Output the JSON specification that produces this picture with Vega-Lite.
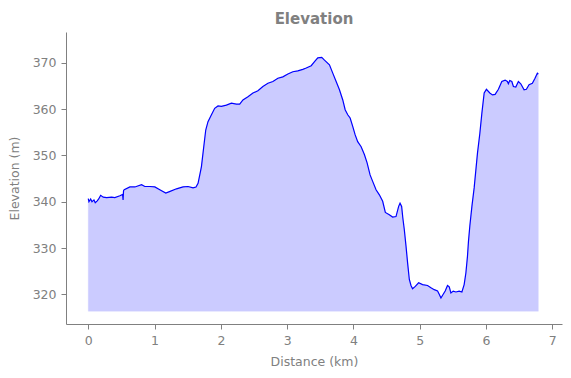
{
  "$schema": "https://vega.github.io/schema/vega-lite/v6.json",
  "autosize": "none",
  "width": 496,
  "height": 292,
  "padding": {"left": 66, "top": 32, "right": 9, "bottom": 54},
  "background": "white",
  "config": {
    "view": {"stroke": null},
    "font": "DejaVu Sans",
    "axis": {
      "domainColor": "#808080",
      "tickColor": "#808080",
      "labelColor": "#808080",
      "titleColor": "#808080",
      "labelFont": "DejaVu Sans",
      "titleFont": "DejaVu Sans",
      "labelFontSize": 12.5,
      "titleFontSize": 12.5,
      "titleFontWeight": "normal",
      "tickSize": 5,
      "grid": false,
      "domainWidth": 1,
      "tickWidth": 1
    }
  },
  "title": {
    "text": "Elevation",
    "font": "DejaVu Sans",
    "fontSize": 15,
    "fontWeight": "bold",
    "color": "#808080",
    "anchor": "middle",
    "offset": 5
  },
  "data": {
    "values": [
      {"d": 0.000, "e": 340.66}, {"d": 0.010, "e": 340.0}, {"d": 0.036, "e": 340.6}, {"d": 0.056, "e": 340.0},
      {"d": 0.086, "e": 340.4}, {"d": 0.105, "e": 339.8}, {"d": 0.135, "e": 340.2}, {"d": 0.157, "e": 340.6},
      {"d": 0.187, "e": 341.4}, {"d": 0.226, "e": 341.0}, {"d": 0.277, "e": 340.9}, {"d": 0.352, "e": 341.0},
      {"d": 0.400, "e": 340.9}, {"d": 0.477, "e": 341.3}, {"d": 0.518, "e": 341.6}, {"d": 0.525, "e": 340.4},
      {"d": 0.532, "e": 342.4}, {"d": 0.542, "e": 342.6}, {"d": 0.628, "e": 343.2}, {"d": 0.703, "e": 343.2},
      {"d": 0.804, "e": 343.7}, {"d": 0.853, "e": 343.3}, {"d": 0.929, "e": 343.3}, {"d": 1.004, "e": 343.2},
      {"d": 1.079, "e": 342.6}, {"d": 1.169, "e": 341.9}, {"d": 1.225, "e": 342.2}, {"d": 1.331, "e": 342.8},
      {"d": 1.430, "e": 343.2}, {"d": 1.505, "e": 343.3}, {"d": 1.580, "e": 343.0}, {"d": 1.625, "e": 343.2},
      {"d": 1.656, "e": 344.0}, {"d": 1.692, "e": 346.5}, {"d": 1.707, "e": 347.6}, {"d": 1.742, "e": 351.9},
      {"d": 1.772, "e": 355.5}, {"d": 1.806, "e": 357.3}, {"d": 1.858, "e": 358.8}, {"d": 1.907, "e": 360.2},
      {"d": 1.957, "e": 360.7}, {"d": 2.008, "e": 360.6}, {"d": 2.083, "e": 360.9}, {"d": 2.159, "e": 361.3},
      {"d": 2.234, "e": 361.1}, {"d": 2.284, "e": 361.1}, {"d": 2.333, "e": 362.0}, {"d": 2.409, "e": 362.7},
      {"d": 2.484, "e": 363.5}, {"d": 2.559, "e": 364.0}, {"d": 2.634, "e": 364.9}, {"d": 2.710, "e": 365.6},
      {"d": 2.785, "e": 366.0}, {"d": 2.860, "e": 366.7}, {"d": 2.935, "e": 367.0}, {"d": 3.011, "e": 367.6},
      {"d": 3.086, "e": 368.1}, {"d": 3.161, "e": 368.3}, {"d": 3.236, "e": 368.6}, {"d": 3.288, "e": 368.9},
      {"d": 3.363, "e": 369.4}, {"d": 3.413, "e": 370.3}, {"d": 3.462, "e": 371.1}, {"d": 3.522, "e": 371.2},
      {"d": 3.563, "e": 370.6}, {"d": 3.638, "e": 369.6}, {"d": 3.688, "e": 367.8}, {"d": 3.739, "e": 366.0},
      {"d": 3.789, "e": 364.2}, {"d": 3.839, "e": 362.0}, {"d": 3.875, "e": 359.9}, {"d": 3.914, "e": 358.8},
      {"d": 3.950, "e": 358.1}, {"d": 3.989, "e": 356.3}, {"d": 4.025, "e": 354.5}, {"d": 4.064, "e": 353.0},
      {"d": 4.116, "e": 351.9}, {"d": 4.165, "e": 350.2}, {"d": 4.206, "e": 348.4}, {"d": 4.251, "e": 345.8},
      {"d": 4.290, "e": 344.4}, {"d": 4.341, "e": 342.6}, {"d": 4.391, "e": 341.5}, {"d": 4.441, "e": 340.1},
      {"d": 4.481, "e": 337.7}, {"d": 4.541, "e": 337.2}, {"d": 4.591, "e": 336.7}, {"d": 4.642, "e": 336.8},
      {"d": 4.682, "e": 339.0}, {"d": 4.703, "e": 339.7}, {"d": 4.727, "e": 339.0}, {"d": 4.745, "e": 336.5},
      {"d": 4.767, "e": 334.0}, {"d": 4.793, "e": 330.4}, {"d": 4.817, "e": 326.8}, {"d": 4.843, "e": 323.2},
      {"d": 4.868, "e": 321.9}, {"d": 4.892, "e": 321.2}, {"d": 4.933, "e": 321.7}, {"d": 4.983, "e": 322.5},
      {"d": 5.043, "e": 322.1}, {"d": 5.118, "e": 321.9}, {"d": 5.169, "e": 321.4}, {"d": 5.219, "e": 321.0},
      {"d": 5.269, "e": 320.7}, {"d": 5.294, "e": 320.0}, {"d": 5.320, "e": 319.2}, {"d": 5.354, "e": 320.0},
      {"d": 5.384, "e": 320.7}, {"d": 5.419, "e": 321.9}, {"d": 5.445, "e": 321.6}, {"d": 5.470, "e": 320.3},
      {"d": 5.505, "e": 320.7}, {"d": 5.546, "e": 320.5}, {"d": 5.595, "e": 320.7}, {"d": 5.636, "e": 320.5},
      {"d": 5.670, "e": 322.1}, {"d": 5.696, "e": 324.6}, {"d": 5.720, "e": 328.2}, {"d": 5.735, "e": 331.4},
      {"d": 5.756, "e": 334.8}, {"d": 5.787, "e": 339.0}, {"d": 5.821, "e": 343.0}, {"d": 5.871, "e": 350.5},
      {"d": 5.907, "e": 354.8}, {"d": 5.937, "e": 359.1}, {"d": 5.972, "e": 363.5}, {"d": 6.006, "e": 364.3},
      {"d": 6.057, "e": 363.5}, {"d": 6.097, "e": 363.1}, {"d": 6.137, "e": 363.2}, {"d": 6.187, "e": 364.3},
      {"d": 6.238, "e": 366.0}, {"d": 6.288, "e": 366.3}, {"d": 6.322, "e": 366.0}, {"d": 6.337, "e": 365.5},
      {"d": 6.358, "e": 366.2}, {"d": 6.389, "e": 366.0}, {"d": 6.413, "e": 364.9}, {"d": 6.449, "e": 364.8},
      {"d": 6.488, "e": 366.0}, {"d": 6.524, "e": 365.5}, {"d": 6.574, "e": 364.2}, {"d": 6.609, "e": 364.3},
      {"d": 6.649, "e": 365.3}, {"d": 6.699, "e": 365.6}, {"d": 6.739, "e": 366.7}, {"d": 6.774, "e": 367.8},
      {"d": 6.789, "e": 367.6}
    ]
  },
  "encoding": {
    "x": {
      "field": "d",
      "type": "quantitative",
      "title": "Distance (km)",
      "scale": {"domain": [-0.336, 7.146], "nice": false, "zero": false},
      "axis": {"values": [0, 1, 2, 3, 4, 5, 6, 7], "format": "d", "labelPadding": 5, "titlePadding": 9}
    },
    "y": {
      "field": "e",
      "type": "quantitative",
      "title": "Elevation (m)",
      "scale": {"domain": [313.58, 376.69], "nice": false, "zero": false},
      "axis": {"values": [320, 330, 340, 350, 360, 370], "format": "d", "labelPadding": 5, "titlePadding": 11}
    }
  },
  "layer": [
    {
      "mark": {"type": "area", "color": "#0000ff", "opacity": 0.2, "stroke": "#0000ff", "strokeWidth": 1, "strokeOpacity": 0.3},
      "encoding": {"y2": {"datum": 316.34}}
    },
    {
      "mark": {"type": "line", "color": "#0000ff", "strokeWidth": 1.2}
    }
  ]
}
